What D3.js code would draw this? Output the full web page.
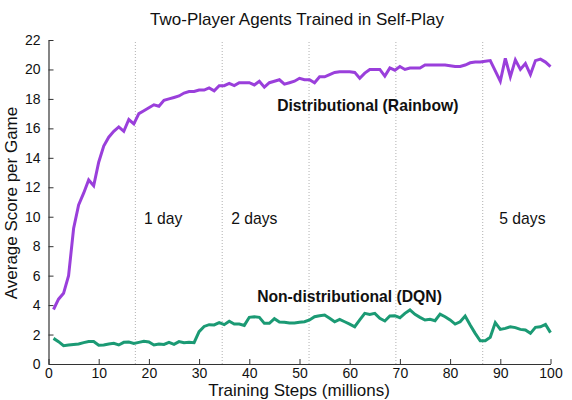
<!DOCTYPE html>
<html>
<head>
<meta charset="utf-8">
<script src="https://cdn.jsdelivr.net/npm/d3@7"></script>
<style>
  body { margin: 0; background: #fff; }
  svg { display: block; font-family: "Liberation Sans", Arial, Helvetica, sans-serif; }
</style>
</head>
<body>
<div id="chart"></div>
<script>
// training steps in millions, one point per million
const steps = d3.range(1, 101);

const rainbow = [
  3.7, 4.4, 4.8, 6.0, 9.2, 10.8, 11.6, 12.5, 12.1, 13.7,
  14.8, 15.4, 15.8, 16.1, 15.8, 16.6, 16.3, 17.0, 17.2, 17.4,
  17.6, 17.5, 17.9, 18.0, 18.1, 18.2, 18.4, 18.5, 18.5, 18.6,
  18.6, 18.75, 18.55, 18.9, 18.9, 19.05, 18.9, 19.1, 19.1, 19.1,
  18.95, 19.2, 18.8, 19.1, 19.2, 19.3, 19.0, 19.1, 19.2, 19.4,
  19.3, 19.3, 19.1, 19.5, 19.5, 19.65, 19.8, 19.85, 19.85, 19.85,
  19.8, 19.4, 19.75, 20.0, 20.0, 20.0, 19.55, 20.1, 19.95, 20.2,
  20.0, 20.1, 20.1, 20.1, 20.3, 20.3, 20.3, 20.3, 20.3, 20.25,
  20.2, 20.2, 20.3, 20.45, 20.5, 20.5, 20.55, 20.6, 19.9, 19.2,
  20.75, 19.5, 20.65, 20.0, 20.4, 19.65, 20.6, 20.7, 20.5, 20.2
];

const dqn = [
  1.74, 1.52, 1.24, 1.29, 1.33, 1.36, 1.45, 1.52, 1.52, 1.27,
  1.29, 1.36, 1.40, 1.29, 1.47, 1.49, 1.40, 1.47, 1.54, 1.49,
  1.29, 1.36, 1.33, 1.47, 1.33, 1.52, 1.45, 1.47, 1.45, 2.2,
  2.55, 2.67, 2.65, 2.81, 2.67, 2.90, 2.71, 2.71, 2.62, 3.17,
  3.21, 3.17, 2.76, 2.76, 3.08, 2.85, 2.83, 2.78, 2.78, 2.83,
  2.87, 2.99, 3.21, 3.28, 3.33, 3.10, 2.87, 3.03, 2.87, 2.71,
  2.53, 2.99, 3.44, 3.37, 3.44, 3.10, 2.92, 3.26, 3.28, 3.14,
  3.44, 3.67, 3.37, 3.17, 2.99, 3.03, 2.94, 3.39, 3.21, 2.99,
  2.71, 2.87, 3.26, 2.65, 2.08, 1.58, 1.58, 1.81, 2.81, 2.35,
  2.42, 2.53, 2.47, 2.35, 2.31, 2.08, 2.49, 2.53, 2.69, 2.13
];

// one day of training = ~17.3M steps
const dayMarks = [17.3, 34.6, 51.9, 69.2, 86.5];
const dayLabels = [
  { text: "1 day", at: 19.0 },
  { text: "2 days", at: 36.4 },
  { text: "5 days", at: 89.8 }
];

const xTicks = [0, 10, 20, 30, 40, 50, 60, 70, 80, 90, 100];
const yTicks = [0, 2, 4, 6, 8, 10, 12, 14, 16, 18, 20, 22];

const width = 572;
const height = 400;
const margin = { top: 40, right: 21.5, bottom: 36, left: 48.5 };

const svg = d3.select("#chart")
  .append("svg")
  .attr("width", width)
  .attr("height", height);

const x = d3.scaleLinear()
  .domain([0, 100])
  .range([margin.left, width - margin.right]);

const y = d3.scaleLinear()
  .domain([0, 22])
  .range([height - margin.bottom, margin.top]);

// dotted "days of training" markers
svg.append("g")
  .selectAll("line")
  .data(dayMarks)
  .enter()
  .append("line")
  .attr("x1", d => x(d))
  .attr("x2", d => x(d))
  .attr("y1", y(0))
  .attr("y2", y(22))
  .attr("stroke", "#b0b0b0")
  .attr("stroke-width", 1)
  .attr("stroke-dasharray", "1,2");

svg.append("g")
  .selectAll("text")
  .data(dayLabels)
  .enter()
  .append("text")
  .attr("x", d => x(d.at))
  .attr("y", 224)
  .style("font-size", "15.7px")
  .attr("fill", "#111")
  .text(d => d.text);

// axes, ticks pointing inward
const xAxis = d3.axisBottom(x)
  .tickValues(xTicks)
  .tickSizeInner(-5)
  .tickSizeOuter(0)
  .tickPadding(4);

const yAxis = d3.axisLeft(y)
  .tickValues(yTicks)
  .tickSizeInner(-5)
  .tickSizeOuter(0)
  .tickPadding(8);

const gx = svg.append("g")
  .attr("transform", `translate(0,${y(0)})`)
  .call(xAxis);

const gy = svg.append("g")
  .attr("transform", `translate(${x(0)},0)`)
  .call(yAxis);

[gx, gy].forEach(g => {
  g.select(".domain").attr("stroke", "#333").attr("stroke-width", 1.2);
  g.selectAll(".tick line").attr("stroke", "#333");
  g.selectAll(".tick text")
    .attr("fill", "#111")
    .style("font-size", "14px")
    .style("font-family", "'Liberation Sans', Arial, sans-serif");
});

// series lines
const line = d3.line()
  .x((d, i) => x(steps[i]))
  .y(d => y(d));

svg.append("path")
  .datum(dqn)
  .attr("fill", "none")
  .attr("stroke", "#1b9a74")
  .attr("stroke-width", 3)
  .attr("d", line);

svg.append("path")
  .datum(rainbow)
  .attr("fill", "none")
  .attr("stroke", "#9a3fdb")
  .attr("stroke-width", 3)
  .attr("d", line);

// series labels
svg.append("text")
  .attr("x", 367.8)
  .attr("y", 111)
  .attr("text-anchor", "middle")
  .style("font-size", "15.7px")
  .style("font-weight", "bold")
  .attr("fill", "#111")
  .text("Distributional (Rainbow)");

svg.append("text")
  .attr("x", 349.5)
  .attr("y", 301.5)
  .attr("text-anchor", "middle")
  .style("font-size", "15.7px")
  .style("font-weight", "bold")
  .attr("fill", "#111")
  .text("Non-distributional (DQN)");

// title and axis titles
svg.append("text")
  .attr("x", 297)
  .attr("y", 25)
  .attr("text-anchor", "middle")
  .style("font-size", "17px")
  .attr("fill", "#111")
  .text("Two-Player Agents Trained in Self-Play");

svg.append("text")
  .attr("x", 299)
  .attr("y", 395.5)
  .attr("text-anchor", "middle")
  .style("font-size", "17px")
  .attr("fill", "#111")
  .text("Training Steps (millions)");

svg.append("text")
  .attr("transform", "translate(16.5,203) rotate(-90)")
  .attr("text-anchor", "middle")
  .style("font-size", "17px")
  .attr("fill", "#111")
  .text("Average Score per Game");
</script>
</body>
</html>
